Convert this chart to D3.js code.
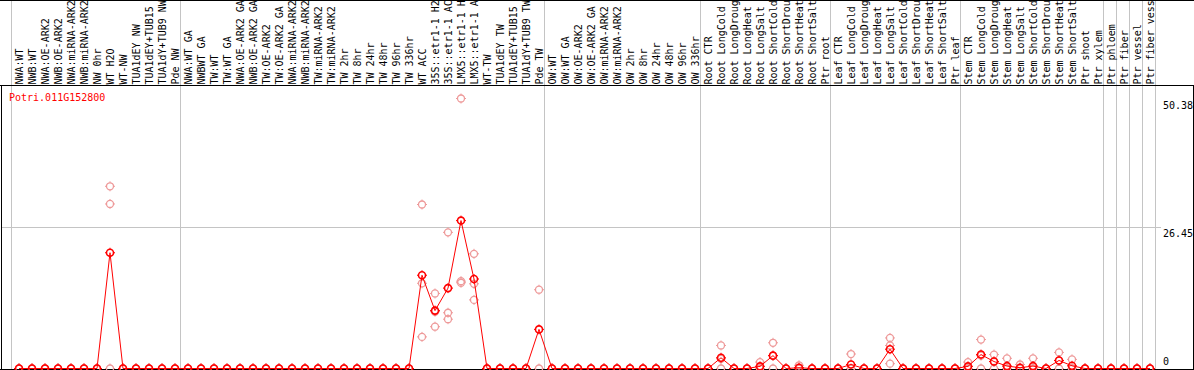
<!DOCTYPE html>
<html>
<head>
<meta charset="utf-8">
<script src="https://cdn.jsdelivr.net/npm/d3@7"></script>
<style>
  body { margin: 0; background: #fff; }
  svg { display: block; font-family: "DejaVu Sans Mono", monospace; font-size: 10px; }
</style>
</head>
<body>
<svg id="chart" width="1194" height="370"></svg>
<script>
const probe = 'Potri.011G152800';

const samples = [
    'NWA:WT', 'NWB:WT', 'NWA:OE-ARK2', 'NWB:OE-ARK2', 'NWA:miRNA-ARK2', 'NWB:miRNA-ARK2',
    'NW 0hr', 'WT H2O', 'WT-NW', 'TUA1dEY NW', 'TUA1dEY+TUB15', 'TUA1dY+TUB9 NW', 'Pde NW',
    'NWA:WT GA', 'NWBWT GA', 'TW:WT', 'TW:WT GA', 'NWA:OE-ARK2 GA', 'NWB:OE-ARK2 GA',
    'TW:OE-ARK2', 'TW:OE-ARK2 GA', 'NWA:miRNA-ARK2', 'NWB:miRNA-ARK2', 'TW:miRNA-ARK2',
    'TW:miRNA-ARK2', 'TW 2hr', 'TW 8hr', 'TW 24hr', 'TW 48hr', 'TW 96hr', 'TW 336hr',
    'WT ACC', '35S::etr1-1 H2', '35S::etr1-1 AC', 'LMX5::etr1-1 H', 'LMX5::etr1-1 A',
    'WT-TW', 'TUA1dEY TW', 'TUA1dEY+TUB15', 'TUA1dY+TUB9 TW', 'Pde TW',
    'OW:WT', 'OW:WT GA', 'OW:OE-ARK2', 'OW:OE-ARK2 GA', 'OW:miRNA-ARK2', 'OW:miRNA-ARK2',
    'OW 2hr', 'OW 8hr', 'OW 24hr', 'OW 48hr', 'OW 96hr', 'OW 336hr',
    'Root CTR', 'Root LongCold', 'Root LongDroug', 'Root LongHeat', 'Root LongSalt',
    'Root ShortCold', 'Root ShortDrou', 'Root ShortHeat', 'Root ShortSalt', 'Ptr root',
    'Leaf CTR', 'Leaf LongCold', 'Leaf LongDroug', 'Leaf LongHeat', 'Leaf LongSalt',
    'Leaf ShortCold', 'Leaf ShortDrou', 'Leaf ShortHeat', 'Leaf ShortSalt', 'Ptr leaf',
    'Stem CTR', 'Stem LongCold', 'Stem LongDroug', 'Stem LongHeat', 'Stem LongSalt',
    'Stem ShortCold', 'Stem ShortDrou', 'Stem ShortHeat', 'Stem ShortSalt', 'Ptr shoot',
    'Ptr xylem', 'Ptr phloem', 'Ptr fiber', 'Ptr vessel', 'Ptr fiber vess'
];

// index where each group of samples begins (separator lines)
const groupStarts = [0, 13, 41, 53, 63, 73, 84, 85, 86, 87, 88];

// mean expression per sample
const means = [
    0, 0, 0, 0, 0, 0, 0, 21.6, 0, 0, 0, 0, 0,
    0, 0, 0, 0, 0, 0, 0, 0, 0, 0, 0, 0, 0, 0, 0, 0, 0, 0,
    17.4, 10.8, 15.0, 27.6, 16.7, 0, 0, 0, 0, 7.3,
    0, 0, 0, 0, 0, 0, 0, 0, 0, 0, 0, 0,
    0, 2.0, 0, 0, 0.4, 2.4, 0, 0.15, 0, 0,
    0, 0.75, 0, 0, 3.6, 0, 0, 0, 0, 0,
    0.4, 2.6, 1.3, 0.45, 0.15, 0.45, 0, 1.5, 0.5, 0, 0,
    0, 0, 0, 0
];

// replicate values (samples not listed have all replicates at 0)
const replicates = {
    7: [34.0, 30.7, 0],
    31: [30.6, 15.9, 5.9],
    32: [14.0, 10.6, 7.8],
    33: [25.4, 10.4, 9.2],
    34: [50.38, 16.3, 16.0],
    35: [21.4, 15.8, 12.8],
    40: [14.7, 0],
    54: [4.3, 1.8, 0],
    57: [1.2, 0, 0],
    58: [4.8, 2.4, 0],
    60: [0.6, 0, 0],
    64: [2.7, 0, 0],
    67: [5.7, 4.3, 0.9],
    73: [1.2, 0, 0],
    74: [5.4, 2.4, 0],
    75: [2.6, 1.3, 0],
    76: [1.9, 0, 0],
    77: [0.75, 0, 0],
    78: [1.9, 0, 0],
    80: [3.0, 1.5, 0],
    81: [1.7, 0, 0]
};

const yTicks = [0, 26.45, 50.38];

const width = 1194, height = 370, headerH = 85.5;
const svg = d3.select('#chart');

let x = d3.scaleBand()
    .domain(d3.range(samples.length + 1))
    .range([11.5, 11.5 + 13 * (samples.length + 1)]);
let cx = i => x(i) + 7.5;

let y = d3.scaleLinear()
    .domain([0, 50.38])
    .range([368.5, 98.5]);

// group separators
svg.append('g')
    .selectAll('line')
    .data(groupStarts)
    .join('line')
    .attr('x1', d => x(d)).attr('x2', d => x(d))
    .attr('y1', 0).attr('y2', height)
    .attr('stroke', '#c4c4c4');

// middle grid line
svg.append('line')
    .attr('x1', 1).attr('x2', 1161)
    .attr('y1', Math.round(y(26.45)) + 0.5).attr('y2', Math.round(y(26.45)) + 0.5)
    .attr('stroke', '#c4c4c4');

// frame
svg.append('line').attr('x1', 0).attr('x2', width).attr('y1', 0.5).attr('y2', 0.5).attr('stroke', '#000');
svg.append('line').attr('x1', 0).attr('x2', width).attr('y1', headerH).attr('y2', headerH).attr('stroke', '#000');
svg.append('line').attr('x1', 1.5).attr('x2', 1.5).attr('y1', headerH).attr('y2', height).attr('stroke', '#000');
svg.append('line').attr('x1', 1193.5).attr('x2', 1193.5).attr('y1', headerH).attr('y2', height).attr('stroke', '#000');
svg.append('line').attr('x1', 0).attr('x2', width).attr('y1', 369.5).attr('y2', 369.5).attr('stroke', '#000');

// sample labels
svg.append('g')
    .selectAll('text')
    .data(samples)
    .join('text')
    .attr('transform', (d, i) => `translate(${cx(i)}, 84.5) rotate(-90)`)
    .attr('dy', '0.36em')
    .attr('fill', '#000')
    .text(d => d);

// y tick labels
svg.append('g')
    .selectAll('text')
    .data(yTicks)
    .join('text')
    .attr('x', 1163)
    .attr('y', d => Math.min(y(d) + 10, 365))
    .attr('fill', '#000')
    .text(d => d);

svg.append('text')
    .attr('x', 9).attr('y', 100.5)
    .attr('fill', '#f00')
    .text(probe);

function marker(g, color, w) {
    g.append('circle').attr('r', 3.5).attr('fill', 'none').attr('stroke', color).attr('stroke-width', w);
    g.append('path').attr('d', 'M0,-5V-3.5M0,3.5V5M-5,0H-3.5M3.5,0H5').attr('stroke', color).attr('stroke-width', 1);
}

// replicates
let repData = [];
samples.forEach((s, i) => {
    (replicates[i] || [0, 0, 0]).forEach(v => repData.push({i, v}));
});
svg.append('g')
    .selectAll('g')
    .data(repData)
    .join('g')
    .attr('transform', d => `translate(${cx(d.i)}, ${y(d.v)})`)
    .each(function () { marker(d3.select(this), '#ee9a9a', 1.3); });

// mean line
svg.append('path')
    .datum(means)
    .attr('fill', 'none')
    .attr('stroke', '#f00')
    .attr('stroke-width', 1)
    .attr('d', d3.line().x((d, i) => cx(i)).y(d => y(d)));

// mean markers
svg.append('g')
    .selectAll('g')
    .data(means)
    .join('g')
    .attr('transform', (d, i) => `translate(${cx(i)}, ${y(d)})`)
    .each(function () { marker(d3.select(this), '#f00', 1.6); });
</script>
</body>
</html>
